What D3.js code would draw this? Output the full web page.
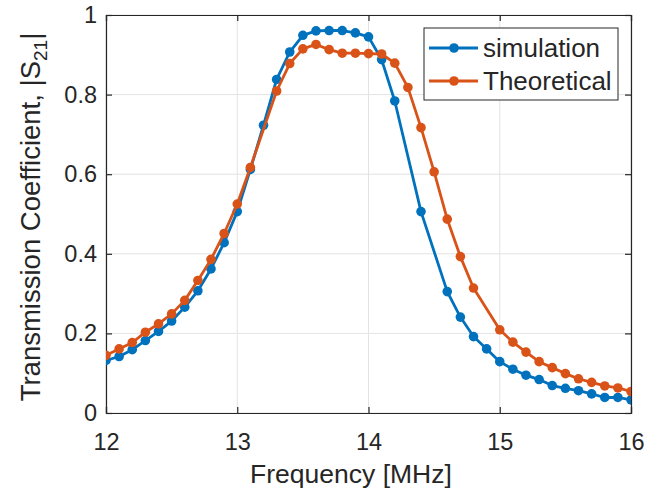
<!DOCTYPE html>
<html lang="en">
<head>
<meta charset="UTF-8">
<title>transmission</title>
<script src="https://d3js.org/d3.v7.min.js"></script>
<style>
    body { margin: 0; background: #fff; }
    text { font-family: "Liberation Sans", Arial, sans-serif; fill: #262626; }
</style>
</head>
<body>
<script>
// frequency samples [MHz] and |S21|
var simFreq = [12.0, 12.1, 12.2, 12.3, 12.4, 12.5, 12.6, 12.7, 12.8, 12.9,
               13.0, 13.1, 13.2, 13.3, 13.4, 13.5, 13.6, 13.7, 13.8, 13.9,
               14.0, 14.1, 14.2, 14.4, 14.6, 14.7, 14.8, 14.9,
               15.0, 15.1, 15.2, 15.3, 15.4, 15.5, 15.6, 15.7, 15.8, 15.9, 16.0];
var simS21 = [0.132, 0.142, 0.159, 0.182, 0.205, 0.231, 0.266, 0.307, 0.362, 0.428,
              0.506, 0.612, 0.723, 0.838, 0.907, 0.949, 0.960, 0.961, 0.961, 0.955,
              0.945, 0.888, 0.784, 0.506, 0.305, 0.241, 0.192, 0.161,
              0.129, 0.110, 0.095, 0.084, 0.069, 0.062, 0.056, 0.048, 0.039, 0.039, 0.033];

var theoFreq = [12.0, 12.1, 12.2, 12.3, 12.4, 12.5, 12.6, 12.7, 12.8, 12.9,
                13.0, 13.1, 13.3, 13.4, 13.5, 13.6, 13.7, 13.8, 13.9,
                14.0, 14.1, 14.2, 14.3, 14.4, 14.5, 14.6, 14.7, 14.8,
                15.0, 15.1, 15.2, 15.3, 15.4, 15.5, 15.6, 15.7, 15.8, 15.9, 16.0];
var theoS21 = [0.145, 0.161, 0.177, 0.203, 0.224, 0.249, 0.283, 0.333, 0.386, 0.451,
               0.525, 0.617, 0.809, 0.878, 0.915, 0.926, 0.913, 0.904, 0.904,
               0.903, 0.902, 0.879, 0.818, 0.717, 0.606, 0.487, 0.393, 0.314,
               0.209, 0.178, 0.153, 0.129, 0.114, 0.099, 0.086, 0.077, 0.068, 0.063, 0.054];

var xTicks = [12, 13, 14, 15, 16];
var yTicks = [0, 0.2, 0.4, 0.6, 0.8, 1];
var seriesNames = ["simulation", "Theoretical"];
var seriesColors = ["#0072BD", "#D95319"];

var width = 659, height = 492;
var margin = {top: 15, right: 28, bottom: 79, left: 106};
var plotW = width - margin.left - margin.right,
    plotH = height - margin.top - margin.bottom;

var x = d3.scaleLinear().domain([12, 16]).range([0, plotW]);
var y = d3.scaleLinear().domain([0, 1]).range([plotH, 0]);

var svg = d3.select("body").append("svg")
    .attr("width", width)
    .attr("height", height);

svg.append("rect").attr("width", width).attr("height", height).attr("fill", "#fff");

var g = svg.append("g")
    .attr("transform", "translate(" + margin.left + "," + margin.top + ")");

// grid
g.selectAll(".vgrid").data(xTicks).enter().append("line")
    .attr("x1", function (d) { return x(d); })
    .attr("x2", function (d) { return x(d); })
    .attr("y1", 0).attr("y2", plotH)
    .attr("stroke", "#e3e3e3").attr("stroke-width", 1);
g.selectAll(".hgrid").data(yTicks).enter().append("line")
    .attr("y1", function (d) { return y(d); })
    .attr("y2", function (d) { return y(d); })
    .attr("x1", 0).attr("x2", plotW)
    .attr("stroke", "#e3e3e3").attr("stroke-width", 1);

// axes (ticks inside, box on all sides)
var fmt = function (d) { return d3.format("")(d); };
g.append("g").attr("transform", "translate(0," + plotH + ")")
    .call(d3.axisBottom(x).tickValues(xTicks).tickSize(-6).tickPadding(20).tickFormat(fmt));
g.append("g")
    .call(d3.axisLeft(y).tickValues(yTicks).tickSize(-6).tickPadding(9).tickFormat(fmt));
g.append("g").attr("transform", "translate(" + plotW + ",0)")
    .call(d3.axisRight(y).tickValues(yTicks).tickSize(-6).tickFormat(""));
g.append("g")
    .call(d3.axisTop(x).tickValues(xTicks).tickSize(-6).tickFormat(""));

g.selectAll(".domain").attr("stroke", "#262626").attr("stroke-width", 1.2);
g.selectAll(".tick line").attr("stroke", "#262626").attr("stroke-width", 1.2);
g.selectAll(".tick text")
    .style("font-family", "'Liberation Sans', Arial, sans-serif")
    .style("font-size", "23.5px")
    .attr("fill", "#262626");

// series
var line = d3.line()
    .x(function (d) { return x(d[0]); })
    .y(function (d) { return y(d[1]); });

svg.append("clipPath").attr("id", "plotclip")
    .append("rect").attr("width", plotW).attr("height", plotH);

var data = [d3.zip(simFreq, simS21), d3.zip(theoFreq, theoS21)];
var plot = g.append("g").attr("clip-path", "url(#plotclip)");

data.forEach(function (pts, i) {
    plot.append("path")
        .datum(pts)
        .attr("d", line)
        .attr("fill", "none")
        .attr("stroke", seriesColors[i])
        .attr("stroke-width", 2.8)
        .attr("stroke-linejoin", "round");
    plot.selectAll(".m" + i).data(pts).enter().append("circle")
        .attr("cx", function (d) { return x(d[0]); })
        .attr("cy", function (d) { return y(d[1]); })
        .attr("r", 4.8)
        .attr("fill", seriesColors[i]);
});

// labels
svg.append("text")
    .attr("x", 351).attr("y", 483)
    .attr("text-anchor", "middle")
    .style("font-size", "26.5px")
    .text("Frequency [MHz]");

var yl = svg.append("text")
    .attr("transform", "translate(40,217) rotate(-90)")
    .attr("text-anchor", "middle")
    .style("font-size", "27.5px");
yl.append("tspan").text("Transmission Coefficient, |S");
yl.append("tspan").attr("dy", 7).style("font-size", "19px").text("21");
yl.append("tspan").attr("dy", -7).text("|");

// legend
var lg = svg.append("g").attr("transform", "translate(424,28)");
lg.append("rect")
    .attr("width", 194).attr("height", 72)
    .attr("fill", "#fff")
    .attr("stroke", "#262626").attr("stroke-width", 1);
seriesNames.forEach(function (name, i) {
    var ly = 20 + i * 33;
    lg.append("line")
        .attr("x1", 5).attr("x2", 54)
        .attr("y1", ly).attr("y2", ly)
        .attr("stroke", seriesColors[i]).attr("stroke-width", 2.8);
    lg.append("circle")
        .attr("cx", 30).attr("cy", ly).attr("r", 4.8)
        .attr("fill", seriesColors[i]);
    lg.append("text")
        .attr("x", 59).attr("y", ly + 9)
        .style("font-size", "26px")
        .text(name);
});
</script>
</body>
</html>
